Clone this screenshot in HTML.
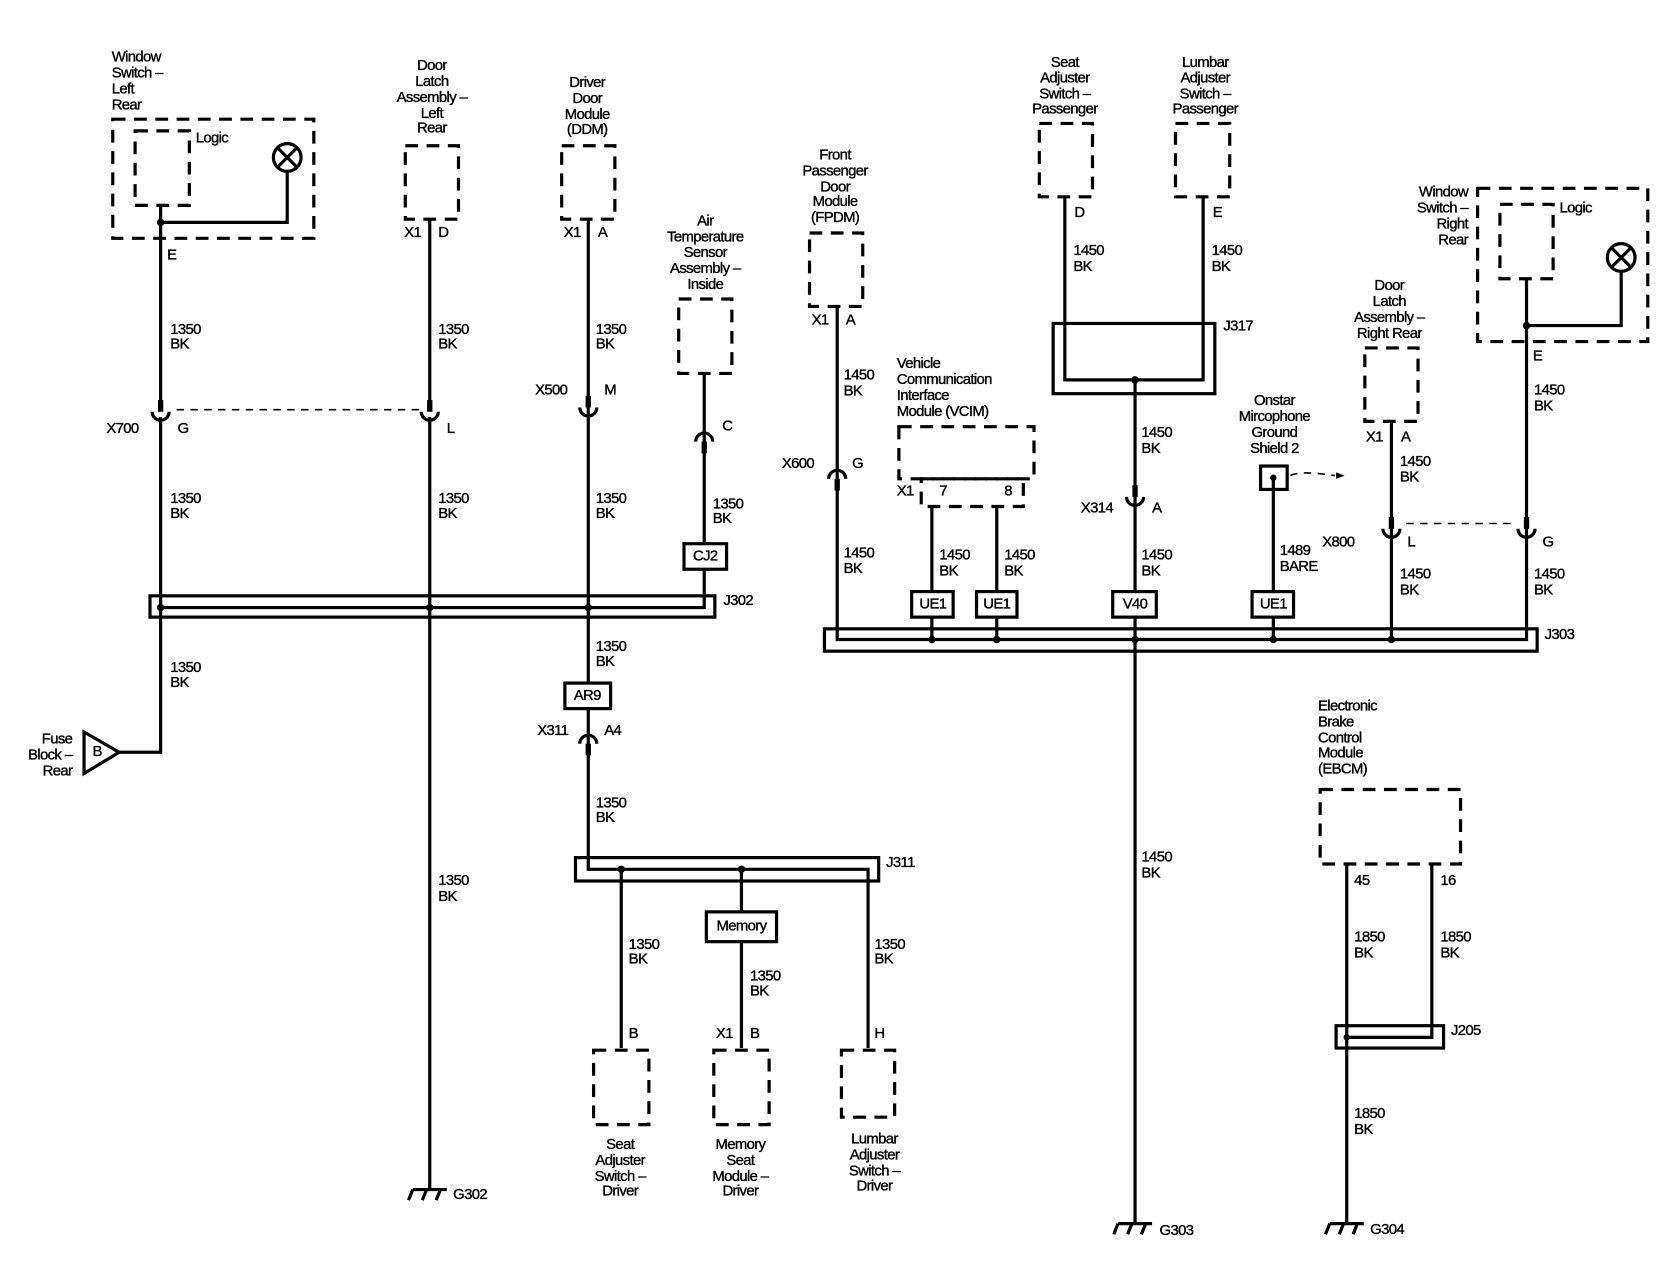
<!DOCTYPE html>
<html><head><meta charset="utf-8"><style>
html,body{margin:0;padding:0;background:#fff;}
svg{display:block;}
text{font-family:"Liberation Sans",Arial,sans-serif;font-size:14px;fill:#000;stroke:#000;stroke-width:0.35px;dominant-baseline:central;letter-spacing:-0.6px;}
.w{stroke:#000;stroke-width:3;fill:none;}
.d{stroke:#000;stroke-width:3;fill:none;stroke-dasharray:12 8;}
.t{stroke:#000;stroke-width:1.5;fill:none;stroke-dasharray:7 6;}
.b{stroke:#000;stroke-width:3;fill:#fff;}
.c{text-anchor:middle;}
.r{text-anchor:end;}
</style></head><body>
<svg width="1668" height="1280" viewBox="0 0 1568 1203" preserveAspectRatio="none" xmlns="http://www.w3.org/2000/svg">
<defs>
<g id="cu"><rect x="-2.5" y="-16" width="5" height="11" fill="#000"/><path d="M-8 -5 A8 8 0 0 0 8 -5" class="w"/></g>
<g id="cd"><rect x="-2.5" y="5" width="5" height="11" fill="#000"/><path d="M-8 5 A8 8 0 0 1 8 5" class="w"/></g>
<g id="gnd"><path d="M-16 0 H16 M-16 0 l-4 10 M-3 0 l-4 10 M10 0 l-4 10" class="w"/></g>
</defs>

<!-- Window switch LR -->
<text x="105" y="54">Window</text><text x="105" y="69">Switch –</text><text x="105" y="84">Left</text><text x="105" y="99">Rear</text>
<rect x="106" y="112" width="189" height="112" class="d"/>
<rect x="127" y="123" width="51" height="70" class="d"/>
<text x="184" y="130">Logic</text>
<circle cx="270" cy="148" r="13" class="w"/><path d="M261 139 L279 157 M279 139 L261 157" class="w"/>
<path d="M270 161 V209 H151" class="w"/><circle cx="151" cy="209" r="3.5"/>
<path d="M151 193 V378 M151 392 V707 H112" class="w"/>
<text x="157" y="240">E</text>
<text x="160" y="310">1350</text><text x="160" y="324">BK</text>
<use href="#cu" x="151" y="392"/>
<text x="100" y="403">X700</text><text x="167" y="403">G</text>
<path d="M166 385 H395" class="t"/>
<text x="160" y="469">1350</text><text x="160" y="483">BK</text>
<text x="160" y="628">1350</text><text x="160" y="642">BK</text>
<path d="M79 688 L79 727 L112 707 Z" class="b"/><text x="87" y="707">B</text>
<text x="68" y="695" class="r">Fuse</text><text x="68" y="710" class="r">Block –</text><text x="68" y="725" class="r">Rear</text>

<!-- Door latch LR -->
<text x="406" y="62" class="c">Door</text><text x="406" y="77" class="c">Latch</text><text x="406" y="92" class="c">Assembly –</text><text x="406" y="107" class="c">Left</text><text x="406" y="121" class="c">Rear</text>
<rect x="381" y="137" width="50" height="69" class="d"/>
<text x="380" y="219">X1</text><text x="412" y="219">D</text>
<path d="M404 206 V378 M404 392 V1118" class="w"/>
<use href="#cu" x="404" y="392"/><text x="420" y="403">L</text>
<text x="412" y="310">1350</text><text x="412" y="324">BK</text>
<text x="412" y="469">1350</text><text x="412" y="483">BK</text>
<text x="412" y="828">1350</text><text x="412" y="843">BK</text>
<use href="#gnd" x="404" y="1118"/><text x="426" y="1123">G302</text>

<!-- DDM -->
<text x="552" y="78" class="c">Driver</text><text x="552" y="93" class="c">Door</text><text x="552" y="108" class="c">Module</text><text x="552" y="122" class="c">(DDM)</text>
<rect x="528" y="137" width="50" height="69" class="d"/>
<text x="530" y="219">X1</text><text x="562" y="219">A</text>
<path d="M553 206 V817 H816 V985" class="w"/>
<use href="#cu" x="553" y="388"/>
<text x="503" y="367">X500</text><text x="568" y="367">M</text>
<text x="560" y="310">1350</text><text x="560" y="324">BK</text>
<text x="560" y="469">1350</text><text x="560" y="483">BK</text>
<text x="560" y="608">1350</text><text x="560" y="622">BK</text>
<rect x="531" y="642" width="43" height="24" class="b"/><text x="552" y="654" class="c">AR9</text>
<use href="#cd" x="553" y="694"/>
<text x="505" y="687">X311</text><text x="568" y="687">A4</text>
<text x="560" y="755">1350</text><text x="560" y="769">BK</text>

<!-- J302 -->
<rect x="141" y="560" width="531" height="20" class="w"/>
<path d="M151 571 H662 V351" class="w"/>
<circle cx="151" cy="571" r="3.5"/><circle cx="404" cy="571" r="3.5"/><circle cx="553" cy="571" r="3.5"/>
<text x="680" y="565">J302</text>

<!-- Air temp -->
<text x="663" y="208" class="c">Air</text><text x="663" y="223" class="c">Temperature</text><text x="663" y="238" class="c">Sensor</text><text x="663" y="253" class="c">Assembly –</text><text x="663" y="268" class="c">Inside</text>
<rect x="638" y="281" width="50" height="70" class="d"/>
<use href="#cd" x="662" y="410"/><text x="679" y="401">C</text>
<text x="670" y="474">1350</text><text x="670" y="488">BK</text>
<rect x="643" y="511" width="40" height="24" class="b"/><text x="663" y="523" class="c">CJ2</text>

<!-- J311 -->
<rect x="541" y="806" width="285" height="22" class="w"/>
<path d="M584 817 V985 M697 817 V985" class="w"/>
<circle cx="584" cy="817" r="3.5"/><circle cx="697" cy="817" r="3.5"/>
<text x="833" y="811">J311</text>
<rect x="664" y="857" width="66" height="28" class="b"/><text x="697" y="871" class="c">Memory</text>
<text x="591" y="888">1350</text><text x="591" y="902">BK</text>
<text x="705" y="918">1350</text><text x="705" y="932">BK</text>
<text x="822" y="888">1350</text><text x="822" y="902">BK</text>
<text x="591" y="972">B</text><text x="673" y="972">X1</text><text x="705" y="972">B</text><text x="822" y="972">H</text>
<rect x="558" y="987" width="52" height="70" class="d"/>
<rect x="671" y="987" width="52" height="70" class="d"/>
<rect x="791" y="987" width="50" height="63" class="d"/>
<text x="583" y="1076" class="c">Seat</text><text x="583" y="1091" class="c">Adjuster</text><text x="583" y="1106" class="c">Switch –</text><text x="583" y="1120" class="c">Driver</text>
<text x="696" y="1076" class="c">Memory</text><text x="696" y="1091" class="c">Seat</text><text x="696" y="1106" class="c">Module –</text><text x="696" y="1120" class="c">Driver</text>
<text x="822" y="1071" class="c">Lumbar</text><text x="822" y="1086" class="c">Adjuster</text><text x="822" y="1101" class="c">Switch –</text><text x="822" y="1115" class="c">Driver</text>

<!-- FPDM -->
<text x="785" y="146" class="c">Front</text><text x="785" y="161" class="c">Passenger</text><text x="785" y="176" class="c">Door</text><text x="785" y="190" class="c">Module</text><text x="785" y="205" class="c">(FPDM)</text>
<rect x="761" y="219" width="50" height="69" class="d"/>
<text x="763" y="301">X1</text><text x="795" y="301">A</text>
<path d="M787 288 V601 H1435 V262" class="w"/>
<use href="#cd" x="787" y="445"/>
<text x="735" y="436">X600</text><text x="801" y="436">G</text>
<text x="793" y="353">1450</text><text x="793" y="368">BK</text>
<text x="793" y="520">1450</text><text x="793" y="535">BK</text>

<!-- VCIM -->
<text x="843" y="342">Vehicle</text><text x="843" y="357">Communication</text><text x="843" y="372">Interface</text><text x="843" y="387">Module (VCIM)</text>
<rect x="845" y="401" width="127" height="49" class="d"/>
<rect x="866" y="450" width="96" height="26" class="d"/>
<text x="843" y="462">X1</text><text x="883" y="462">7</text><text x="944" y="462">8</text>
<path d="M876 476 V601 M937 476 V601" class="w"/>
<text x="883" y="522">1450</text><text x="883" y="537">BK</text>
<text x="944" y="522">1450</text><text x="944" y="537">BK</text>
<rect x="857" y="556" width="39" height="24" class="b"/><text x="877" y="568" class="c">UE1</text>
<rect x="918" y="556" width="38" height="24" class="b"/><text x="937" y="568" class="c">UE1</text>

<!-- Seat / Lumbar passenger -->
<text x="1001" y="59" class="c">Seat</text><text x="1001" y="74" class="c">Adjuster</text><text x="1001" y="89" class="c">Switch –</text><text x="1001" y="103" class="c">Passenger</text>
<rect x="977" y="116" width="50" height="69" class="d"/>
<text x="1133" y="59" class="c">Lumbar</text><text x="1133" y="74" class="c">Adjuster</text><text x="1133" y="89" class="c">Switch –</text><text x="1133" y="103" class="c">Passenger</text>
<rect x="1105" y="116" width="51" height="69" class="d"/>
<text x="1010" y="200">D</text><text x="1140" y="200">E</text>
<text x="1009" y="236">1450</text><text x="1009" y="251">BK</text>
<text x="1139" y="236">1450</text><text x="1139" y="251">BK</text>
<path d="M1001 185 V357 H1131 V185" class="w"/>
<rect x="990" y="304" width="152" height="66" class="w"/>
<circle cx="1067" cy="357" r="3.5"/>
<text x="1150" y="307">J317</text>
<path d="M1067 357 V1150" class="w"/>
<use href="#cu" x="1067" y="472"/>
<text x="1016" y="478">X314</text><text x="1083" y="478">A</text>
<text x="1073" y="407">1450</text><text x="1073" y="422">BK</text>
<text x="1073" y="522">1450</text><text x="1073" y="537">BK</text>
<rect x="1046" y="556" width="41" height="24" class="b"/><text x="1067" y="568" class="c">V40</text>
<text x="1073" y="806">1450</text><text x="1073" y="821">BK</text>
<use href="#gnd" x="1067" y="1150"/><text x="1090" y="1157">G303</text>

<!-- Onstar -->
<text x="1198" y="377" class="c">Onstar</text><text x="1198" y="392" class="c">Mircophone</text><text x="1198" y="407" class="c">Ground</text><text x="1198" y="422" class="c">Shield 2</text>
<rect x="1185" y="438" width="25" height="22" class="w"/>
<circle cx="1197" cy="449" r="3"/>
<path d="M1213 447 Q1222 442 1255 447" class="t"/><path d="M1256 444 L1264 447 L1256 450 Z"/>
<path d="M1197 449 V601" class="w"/>
<text x="1203" y="518">1489</text><text x="1203" y="533">BARE</text>
<rect x="1177" y="556" width="39" height="24" class="b"/><text x="1197" y="568" class="c">UE1</text>

<!-- Door latch RR -->
<text x="1306" y="269" class="c">Door</text><text x="1306" y="284" class="c">Latch</text><text x="1306" y="299" class="c">Assembly –</text><text x="1306" y="314" class="c">Right Rear</text>
<rect x="1283" y="327" width="50" height="69" class="d"/>
<text x="1284" y="411">X1</text><text x="1317" y="411">A</text>
<path d="M1308 396 V601" class="w"/>
<use href="#cu" x="1308" y="502"/>
<text x="1243" y="510">X800</text><text x="1323" y="510">L</text>
<path d="M1322 492 H1425" class="t"/>
<text x="1316" y="434">1450</text><text x="1316" y="449">BK</text>
<text x="1316" y="540">1450</text><text x="1316" y="555">BK</text>

<!-- Window switch RR -->
<text x="1380" y="181" class="r">Window</text><text x="1380" y="196" class="r">Switch –</text><text x="1380" y="211" class="r">Right</text><text x="1380" y="226" class="r">Rear</text>
<rect x="1389" y="177" width="160" height="144" class="d"/>
<rect x="1410" y="192" width="50" height="70" class="d"/>
<text x="1466" y="196">Logic</text>
<circle cx="1524" cy="242" r="13" class="w"/><path d="M1515 233 L1533 251 M1533 233 L1515 251" class="w"/>
<path d="M1524 255 V306 H1435" class="w"/><circle cx="1435" cy="306" r="3.5"/>
<use href="#cu" x="1435" y="502"/>
<text x="1441" y="335">E</text><text x="1450" y="510">G</text>
<text x="1442" y="367">1450</text><text x="1442" y="382">BK</text>
<text x="1442" y="540">1450</text><text x="1442" y="555">BK</text>

<!-- J303 -->
<rect x="775" y="591" width="670" height="21" class="w"/>
<circle cx="876" cy="601" r="3.5"/><circle cx="937" cy="601" r="3.5"/><circle cx="1067" cy="601" r="3.5"/><circle cx="1197" cy="601" r="3.5"/><circle cx="1308" cy="601" r="3.5"/>
<text x="1452" y="597">J303</text>

<!-- EBCM -->
<text x="1239" y="664">Electronic</text><text x="1239" y="679">Brake</text><text x="1239" y="694">Control</text><text x="1239" y="708">Module</text><text x="1239" y="723">(EBCM)</text>
<rect x="1241" y="742" width="132" height="70" class="d"/>
<text x="1273" y="828">45</text><text x="1354" y="828">16</text>
<path d="M1266 812 V1150 M1346 812 V975 H1266" class="w"/>
<circle cx="1266" cy="975" r="3"/>
<rect x="1256" y="964" width="101" height="21" class="w"/>
<text x="1364" y="969">J205</text>
<text x="1273" y="881">1850</text><text x="1273" y="896">BK</text>
<text x="1354" y="881">1850</text><text x="1354" y="896">BK</text>
<text x="1273" y="1047">1850</text><text x="1273" y="1062">BK</text>
<use href="#gnd" x="1266" y="1150"/><text x="1288" y="1156">G304</text>
</svg>
</body></html>
